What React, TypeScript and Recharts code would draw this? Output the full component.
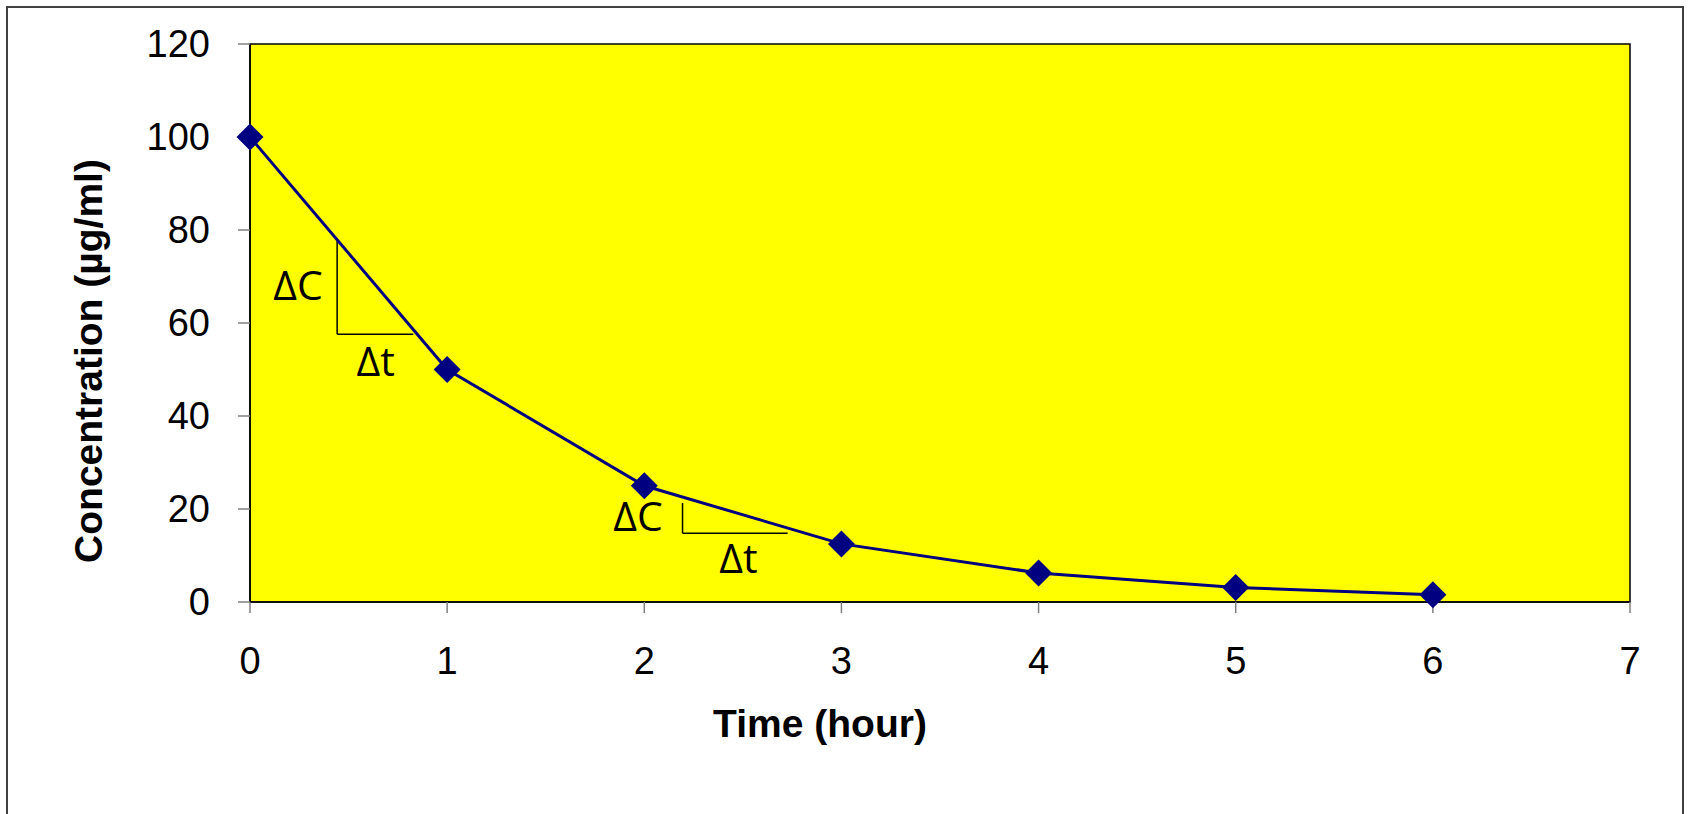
import { LineChart, Line, XAxis, YAxis, CartesianGrid, ReferenceArea, ReferenceLine, ReferenceDot } from 'recharts'

const hours = [0, 1, 2, 3, 4, 5, 6]
const concentration = [100, 50, 25, 12.5, 6.25, 3.125, 1.5625]
const xTicks = [0, 1, 2, 3, 4, 5, 6, 7]
const yTicks = [0, 20, 40, 60, 80, 100, 120]

// slope triangles drawn under the curve, in data units
const deltaSegments = [
  [{ x: 0.442, y: 77.8 }, { x: 0.442, y: 57.6 }],
  [{ x: 0.442, y: 57.6 }, { x: 0.828, y: 57.6 }],
  [{ x: 2.194, y: 21.3 }, { x: 2.194, y: 14.8 }],
  [{ x: 2.194, y: 14.8 }, { x: 2.727, y: 14.8 }],
]
const deltaLabels = [
  { x: 0.244, y: 68.0, text: 'ΔC' },
  { x: 0.637, y: 51.7, text: 'Δt' },
  { x: 1.968, y: 18.4, text: 'ΔC' },
  { x: 2.478, y: 9.35, text: 'Δt' },
]

const data = hours.map((t, i) => ({ t, c: concentration[i] }))

const AXIS_FONT = 'Arial, "Liberation Sans", sans-serif'
const tickStyle = { fill: '#000', fontSize: 38, fontFamily: AXIS_FONT }

function Diamond(props: any) {
  const { cx, cy } = props
  if (cx == null || cy == null) return null
  const r = 13.5
  return <path d={`M${cx},${cy - r}L${cx + r},${cy}L${cx},${cy + r}L${cx - r},${cy}Z`} fill="#000080" />
}

function YTitle(props: any) {
  const vb = props.viewBox || { x: 0, y: 44, height: 558 }
  const x = vb.x + 102
  const y = vb.y + vb.height / 2 + 38
  return (
    <text x={x} y={y} transform={`rotate(-90 ${x} ${y})`} textAnchor="middle" fontSize={39} fontWeight="bold" fontFamily={AXIS_FONT} fill="#000">
      Concentration (µg/ml)
    </text>
  )
}

function XTitle(props: any) {
  const vb = props.viewBox || { x: 250, y: 602, width: 1380 }
  return (
    <text x={820} y={vb.y + 135} textAnchor="middle" fontSize={39} fontWeight="bold" fontFamily={AXIS_FONT} fill="#000">
      Time (hour)
    </text>
  )
}

export default function App() {
  return (
    <div style={{ position: 'fixed', left: 0, top: 0, width: 1690, height: 814, overflow: 'hidden', background: '#fff' }}>
      <div style={{ position: 'absolute', left: 6, top: 6, width: 1678, height: 900, border: '2px solid #404040', boxSizing: 'border-box' }} />
      <div style={{ position: 'absolute', left: 0, top: 0 }}>
        <LineChart width={1690} height={814} data={data} margin={{ top: 44, right: 60, bottom: 112, left: 0 }}>
          <CartesianGrid fill="#FFFF00" fillOpacity={1} horizontal={false} vertical={false} stroke="none" />
          <XAxis
            dataKey="t"
            type="number"
            domain={[0, 7]}
            ticks={xTicks}
            height={100}
            tickSize={11}
            tickMargin={34}
            tick={tickStyle}
            axisLine={{ stroke: '#000', strokeWidth: 1.5 }}
            tickLine={{ stroke: '#808080', strokeWidth: 1.5 }}
            label={{ content: XTitle }}
          />
          <YAxis
            type="number"
            domain={[0, 120]}
            ticks={yTicks}
            width={250}
            tickSize={12}
            tickMargin={28}
            tick={tickStyle}
            axisLine={{ stroke: '#000', strokeWidth: 1.5 }}
            tickLine={{ stroke: '#808080', strokeWidth: 1.5 }}
            label={{ content: YTitle }}
          />
          <ReferenceArea x1={0} x2={7} y1={0} y2={120} fill="none" stroke="#000" strokeWidth={1.5} />
          {deltaSegments.map((seg, i) => (
            <ReferenceLine key={`s${i}`} segment={seg} stroke="#000" strokeWidth={1.5} />
          ))}
          {deltaLabels.map((d, i) => (
            <ReferenceDot
              key={`l${i}`}
              x={d.x}
              y={d.y}
              r={0}
              fill="none"
              stroke="none"
              label={{ value: d.text, position: 'center', fill: '#000', fontSize: 41, fontFamily: '"Open Sans", sans-serif' }}
            />
          ))}
          <Line
            type="linear"
            dataKey="c"
            stroke="#000080"
            strokeWidth={3}
            dot={<Diamond />}
            activeDot={false}
            isAnimationActive={false}
          />
        </LineChart>
      </div>
    </div>
  )
}
